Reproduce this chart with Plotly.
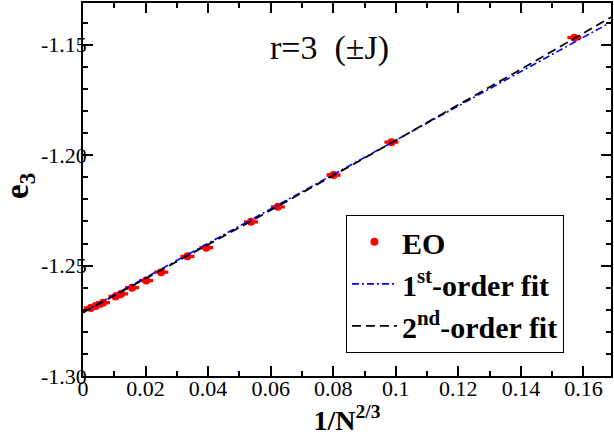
import numpy as np
import plotly.graph_objects as go

# EO ground-state energies per spin vs 1/N^(2/3)
inv_n23 = [0.1571, 0.0986, 0.0801, 0.0623, 0.0537, 0.0394, 0.0334, 0.0250,
           0.0202, 0.0157, 0.0122, 0.0104, 0.0064, 0.0040, 0.0025]
e3 = [-1.1468, -1.1941, -1.2090, -1.2234, -1.2302, -1.2419, -1.2458, -1.2530,
      -1.2568, -1.2600, -1.2628, -1.2640, -1.2668, -1.2683, -1.2692]
e3_err = [0.0003] * len(e3)

# fit coefficients (constant, linear, quadratic)
fit1 = [-1.2710, 0.7775]
fit2 = [-1.2713, 0.7610, 0.186]

x_ticks = [0, 0.02, 0.04, 0.06, 0.08, 0.1, 0.12, 0.14, 0.16]
x_ticktext = ["0", "0.02", "0.04", "0.06", "0.08", "0.1", "0.12", "0.14", "0.16"]
y_ticks = [-1.30, -1.25, -1.20, -1.15]
y_ticktext = ["-1.30", "-1.25", "-1.20", "-1.15"]

xfit = np.linspace(0, 0.17, 200)
y1 = fit1[0] + fit1[1] * xfit
y2 = fit2[0] + fit2[1] * xfit + fit2[2] * xfit ** 2

SERIF = "Liberation Serif, Times New Roman, serif"

fig = go.Figure()
fig.add_trace(go.Scatter(
    x=inv_n23, y=e3, mode="markers", name="<b>EO</b>",
    marker=dict(color="red", size=8),
    error_y=dict(type="data", array=e3_err, color="red", thickness=2, width=7),
    legendgroup="a",
))
fig.add_trace(go.Scatter(
    x=xfit, y=y1, mode="lines", name="<b>1<sup>st</sup>-order fit</b>",
    line=dict(color="blue", width=1.6, dash="7px,3px,2px,3px"),
    legendgroup="b",
))
fig.add_trace(go.Scatter(
    x=xfit, y=y2, mode="lines", name="<b>2<sup>nd</sup>-order fit</b>",
    line=dict(color="black", width=1.8, dash="9px,5px"),
    legendgroup="c",
))

axis_common = dict(
    showgrid=False, zeroline=False, showline=True, linecolor="black", linewidth=1.5,
    mirror="ticks", ticks="inside", ticklen=10, tickwidth=1.5, tickcolor="black",
    tickfont=dict(family=SERIF, size=22, color="black"),
)

fig.update_layout(
    width=614, height=445,
    margin=dict(l=83, r=1, t=1, b=69),
    paper_bgcolor="white", plot_bgcolor="white",
    font=dict(family=SERIF, color="black"),
    showlegend=True,
    legend=dict(
        x=0.498, y=0.432, xanchor="left", yanchor="top",
        bordercolor="black", borderwidth=1, bgcolor="white",
        font=dict(family=SERIF, size=30, color="black"),
        tracegroupgap=0, itemwidth=45,
        entrywidth=170, entrywidthmode="pixels",
    ),
    xaxis=dict(
        range=[0, 0.1688], tickvals=x_ticks, ticktext=x_ticktext,
        ticklabelstandoff=-8,
        minor=dict(ticks="inside", ticklen=5, tickwidth=1.5, tickcolor="black", dtick=0.01),
        title=dict(text="<b>1/N<sup>2/3</sup></b>", font=dict(family=SERIF, size=28, color="black"),
                   standoff=5),
        **axis_common,
    ),
    yaxis=dict(
        range=[-1.30, -1.1311], tickvals=y_ticks, ticktext=y_ticktext,
        ticklabelstandoff=-10,
        minor=dict(ticks="inside", ticklen=5, tickwidth=1.5, tickcolor="black",
                   tickvals=[round(-1.30 + 0.01 * i, 2) for i in range(18)]),
        **axis_common,
    ),
    annotations=[
        dict(
            text="r=3\u00a0\u00a0(\u00b1J)", x=0.466, y=0.88, xref="paper", yref="paper",
            xanchor="center", yanchor="middle",
            showarrow=False, font=dict(family=SERIF, size=34, color="black"),
        ),
        dict(
            text="<b>e<sub>3</sub></b>", x=-0.119, y=0.51, xref="paper", yref="paper",
            xanchor="center", yanchor="middle", textangle=-90,
            showarrow=False, font=dict(family=SERIF, size=33, color="black"),
        ),
    ],
)

fig.write_html("out.html")
